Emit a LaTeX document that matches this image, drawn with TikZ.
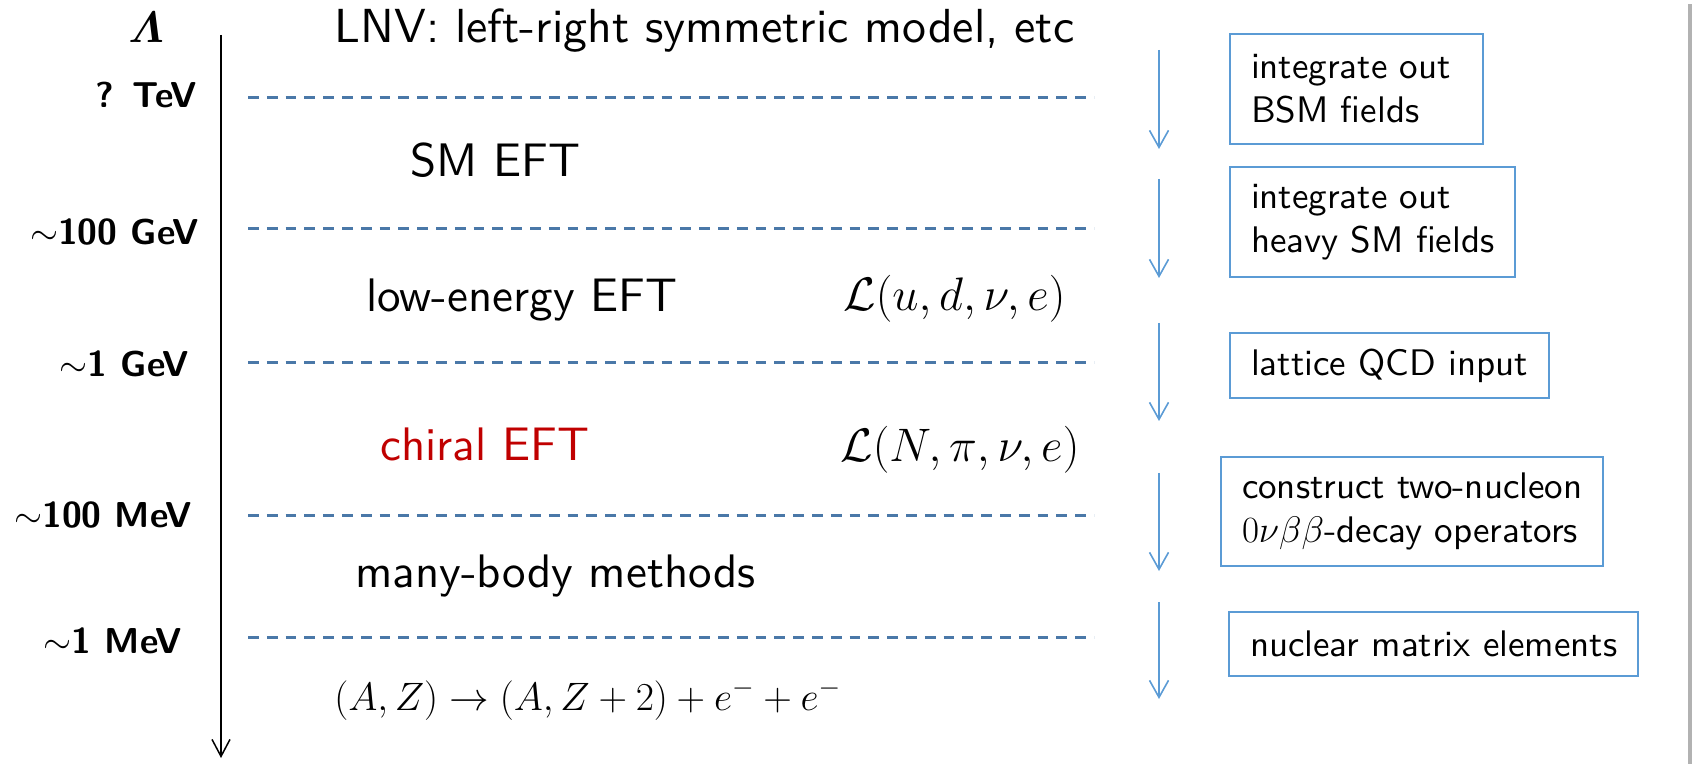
\RequirePackage{fix-cm}
\documentclass[tikz,border=0pt]{standalone}
\usepackage{amsmath,amssymb}
\usepackage{graphicx}
\usepackage{fontspec}
\setsansfont{lmsans10-regular}[Extension=.otf,BoldFont=lmsans10-bold]
\usepackage{xcolor}
\usepackage{tikz}
\usetikzlibrary{arrows.meta}
\definecolor{ocut}{HTML}{4A78A8}
\definecolor{obox}{HTML}{5B9BD5}
\definecolor{ored}{HTML}{C00000}

\begin{document}
\begin{tikzpicture}[
  x=0.5pt,y=-0.5pt,
  scl/.style={font=\sffamily\bfseries\fontsize{18}{21}\selectfont,
              anchor=base east,inner sep=0pt},
  stage/.style={font=\sffamily\fontsize{23.5}{28}\selectfont,
                anchor=base west,inner sep=0pt},
  lag/.style={font=\fontsize{23.5}{28}\selectfont,anchor=base west,inner sep=0pt},
  cut/.style={draw=ocut,line width=1.5pt,dash pattern=on 5.35pt off 4.05pt},
  flow/.style={draw=obox,line width=0.8pt,
               -{Straight Barb[length=8.5pt,width=9.5pt]}},
  box/.style={draw=obox,line width=1pt,align=left,anchor=west,
              font=\sffamily\fontsize{18.5}{22}\selectfont,
              inner xsep=10.5pt,inner ysep=0pt}
]
\useasboundingbox (0,0) rectangle (1692,764);
\fill[black!30] (1688,4) rectangle (1692,764);

% energy axis
\coordinate (top) at (221,35);
\coordinate (bot) at (221,758);
\draw[line width=0.75pt,-{Straight Barb[length=8.5pt,width=9pt]}] (top) -- (bot);
\node[anchor=base,inner sep=0pt,font=\fontsize{10}{12}\selectfont] (lam)
  at (146,43) {\scalebox{2.2}{$\boldsymbol{\varLambda}$}};

\node[scl] (tev) at (197,108) {? TeV};
\node[scl] (gev100) at (199,245) {$\sim$100 GeV};
\node[scl] (gev1) at (189,377) {$\sim$1 GeV};
\node[scl] (mev100) at (192,527) {$\sim$100 MeV};
\node[scl] (mev1) at (182,653) {$\sim$1 MeV};

% thresholds
\foreach \y [count=\i] in {98,229,363,515,637} {
  \coordinate (cl\i) at (248,\y);
  \coordinate (cr\i) at (1094,\y);
  \draw[cut] (cl\i) -- (cr\i);
}

% theories
\node[stage,font=\sffamily\fontsize{23.9}{28}\selectfont] (lnv) at (334,43)
  {LNV: left-right symmetric model, etc};
\node[stage] (smeft) at (410,177) {SM EFT};
\node[stage] (leeft) at (366,312) {low-energy EFT};
\node[lag] (lagq) at (843,311) {$\mathcal{L}(u,d,\nu,e)$};
\node[stage,text=ored] (chiral) at (380,460) {chiral EFT};
\node[lag] (lagn) at (840,462) {$\mathcal{L}(N,\pi,\nu,e)$};
\node[stage] (manybody) at (355,587) {many-body methods};
\node[lag,font=\fontsize{19.8}{24}\selectfont] (decay) at (334,710)
  {$(A,Z)\rightarrow(A,Z+2)+e^-+e^-$};

% matching steps
\foreach \a/\b [count=\i] in {50/149,179/278,323/421,473/571,602/699} {
  \coordinate (fa\i) at (1159,\a);
  \coordinate (fb\i) at (1159,\b);
  \draw[flow] (fa\i) -- (fb\i);
}

\node[box,text width=105.5pt,minimum height=55pt] (bsm) at (1229,89)
  {integrate out\\BSM fields};
\node[box,minimum height=55pt] (heavy) at (1229,222)
  {integrate out\\heavy SM fields};
\node[box,minimum height=32.5pt] (lqcd) at (1229,365.5)
  {lattice QCD input};
\node[box,minimum height=54.5pt] (twon) at (1220,511.5)
  {construct two-nucleon\\$0\nu\beta\beta$-decay operators};
\node[box,minimum height=32pt] (nme) at (1228,644)
  {nuclear matrix elements};
\end{tikzpicture}
\end{document}
